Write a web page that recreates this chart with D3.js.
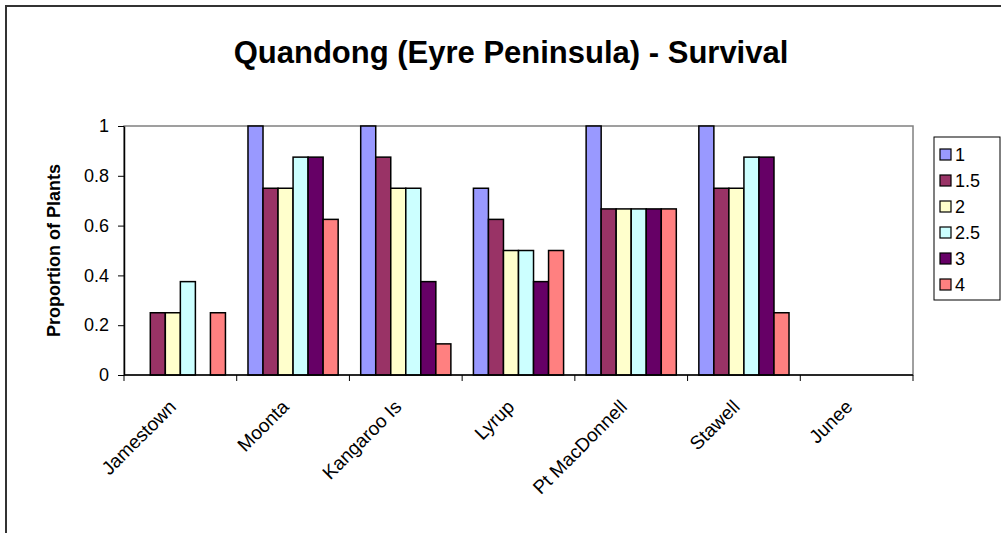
<!DOCTYPE html>
<html lang="en">
<head>
    <meta charset="UTF-8">
    <title>Quandong (Eyre Peninsula) - Survival</title>
    <script src="https://d3js.org/d3.v7.min.js"></script>
    <style>
        body { margin: 0; background: #fff; }
    </style>
</head>
<body>

<script>
    // data
    var sites = ["Jamestown", "Moonta", "Kangaroo Is", "Lyrup", "Pt MacDonnell", "Stawell", "Junee"];
    var seriesNames = ["1", "1.5", "2", "2.5", "3", "4"];
    var s1   = [0,     1,     1,     0.75,  1,     1,     0];
    var s1_5 = [0.25,  0.75,  0.875, 0.625, 0.667, 0.75,  0];
    var s2   = [0.25,  0.75,  0.75,  0.5,   0.667, 0.75,  0];
    var s2_5 = [0.375, 0.875, 0.75,  0.5,   0.667, 0.875, 0];
    var s3   = [0,     0.875, 0.375, 0.375, 0.667, 0.875, 0];
    var s4   = [0.25,  0.625, 0.125, 0.5,   0.667, 0.25,  0];
    var yTicks = [0, 0.2, 0.4, 0.6, 0.8, 1];
    var colors = ["#9999FF", "#993366", "#FFFFCC", "#CCFFFF", "#660066", "#FF8080"];

    var allSeries = [s1, s1_5, s2, s2_5, s3, s4];
    var FONT = "Arial, 'Liberation Sans', sans-serif";

    var W = 1001, H = 533;
    var plot = { left: 124, top: 126, right: 913, bottom: 375 };

    var svg = d3.select("body").append("svg")
        .attr("width", W)
        .attr("height", H)
        .attr("font-family", FONT);

    // chart frame (right and bottom edges run off the picture)
    svg.append("rect")
        .attr("x", 6).attr("y", 6)
        .attr("width", 1020).attr("height", 560)
        .attr("fill", "#fff")
        .attr("stroke", "#333")
        .attr("stroke-width", 2);

    var x0 = d3.scaleBand().domain(sites).range([plot.left, plot.right]);
    // gap width 150% like excel
    var x1 = d3.scaleBand().domain(seriesNames).range([0, x0.bandwidth()]).paddingOuter(0.75).paddingInner(0);
    var y = d3.scaleLinear().domain([0, 1]).range([plot.bottom, plot.top]);
    var color = d3.scaleOrdinal().domain(seriesNames).range(colors);

    // plot area border
    svg.append("rect")
        .attr("x", plot.left).attr("y", plot.top)
        .attr("width", plot.right - plot.left).attr("height", plot.bottom - plot.top)
        .attr("fill", "#fff")
        .attr("stroke", "#808080")
        .attr("stroke-width", 1.5);

    // bars
    var groups = svg.selectAll(".site")
        .data(sites)
        .enter().append("g")
        .attr("class", "site")
        .attr("transform", d => "translate(" + x0(d) + ",0)");

    groups.selectAll("rect")
        .data((d, i) => seriesNames.map((s, j) => ({ key: s, value: allSeries[j][i] })))
        .enter().append("rect")
        .filter(d => d.value > 0)
        .attr("x", d => x1(d.key))
        .attr("y", d => y(d.value))
        .attr("width", x1.bandwidth())
        .attr("height", d => y(0) - y(d.value))
        .attr("fill", d => color(d.key))
        .attr("stroke", "#000")
        .attr("stroke-width", 1.5);

    // y axis
    var yAxis = svg.append("g")
        .attr("transform", "translate(" + plot.left + ",0)")
        .call(d3.axisLeft(y).tickValues(yTicks).tickFormat(d => d).tickSize(6).tickSizeOuter(0));
    yAxis.attr("font-family", FONT).attr("font-size", 18);
    yAxis.select(".domain").attr("stroke", "#000").attr("stroke-width", 1.5);
    yAxis.selectAll(".tick line").attr("stroke", "#000");
    yAxis.selectAll(".tick text")
        .attr("fill", "#000")
        .attr("x", -15);

    // x axis: ticks sit on category boundaries
    var xAxis = svg.append("g")
        .attr("transform", "translate(0," + plot.bottom + ")");
    xAxis.append("line")
        .attr("x1", plot.left).attr("x2", plot.right)
        .attr("stroke", "#000").attr("stroke-width", 1.5);
    var bounds = sites.map(d => x0(d)).concat([plot.right]);
    xAxis.selectAll(".xtick")
        .data(bounds)
        .enter().append("line")
        .attr("x1", d => d).attr("x2", d => d)
        .attr("y1", 0).attr("y2", 6)
        .attr("stroke", "#000");
    xAxis.selectAll(".xlabel")
        .data(sites)
        .enter().append("text")
        .attr("transform", d => "translate(" + (x0(d) + x0.bandwidth() / 2 - 3) + ",33) rotate(-45)")
        .attr("text-anchor", "end")
        .attr("font-size", 19)
        .attr("fill", "#000")
        .text(d => d);

    // titles
    svg.append("text")
        .attr("x", 511)
        .attr("y", 63)
        .attr("text-anchor", "middle")
        .attr("font-size", 31)
        .attr("font-weight", "bold")
        .text("Quandong (Eyre Peninsula) - Survival");

    svg.append("text")
        .attr("transform", "translate(60," + ((plot.top + plot.bottom) / 2) + ") rotate(-90)")
        .attr("text-anchor", "middle")
        .attr("font-size", 18)
        .attr("font-weight", "bold")
        .text("Proportion of Plants");

    // legend
    var legendBox = svg.append("g").attr("transform", "translate(934,137)");
    legendBox.append("rect")
        .attr("width", 66).attr("height", 163)
        .attr("fill", "#fff")
        .attr("stroke", "#000")
        .attr("stroke-width", 1);

    var legend = legendBox.selectAll(".legend")
        .data(seriesNames)
        .enter().append("g")
        .attr("class", "legend")
        .attr("transform", (d, i) => "translate(0," + (18 + i * 26) + ")");

    legend.append("rect")
        .attr("x", 6)
        .attr("y", -6)
        .attr("width", 11)
        .attr("height", 11)
        .attr("fill", d => color(d))
        .attr("stroke", "#000")
        .attr("stroke-width", 1.2);

    legend.append("text")
        .attr("x", 21)
        .attr("y", 0)
        .attr("dy", ".36em")
        .attr("font-size", 18)
        .text(d => d);
</script>

</body>
</html>
